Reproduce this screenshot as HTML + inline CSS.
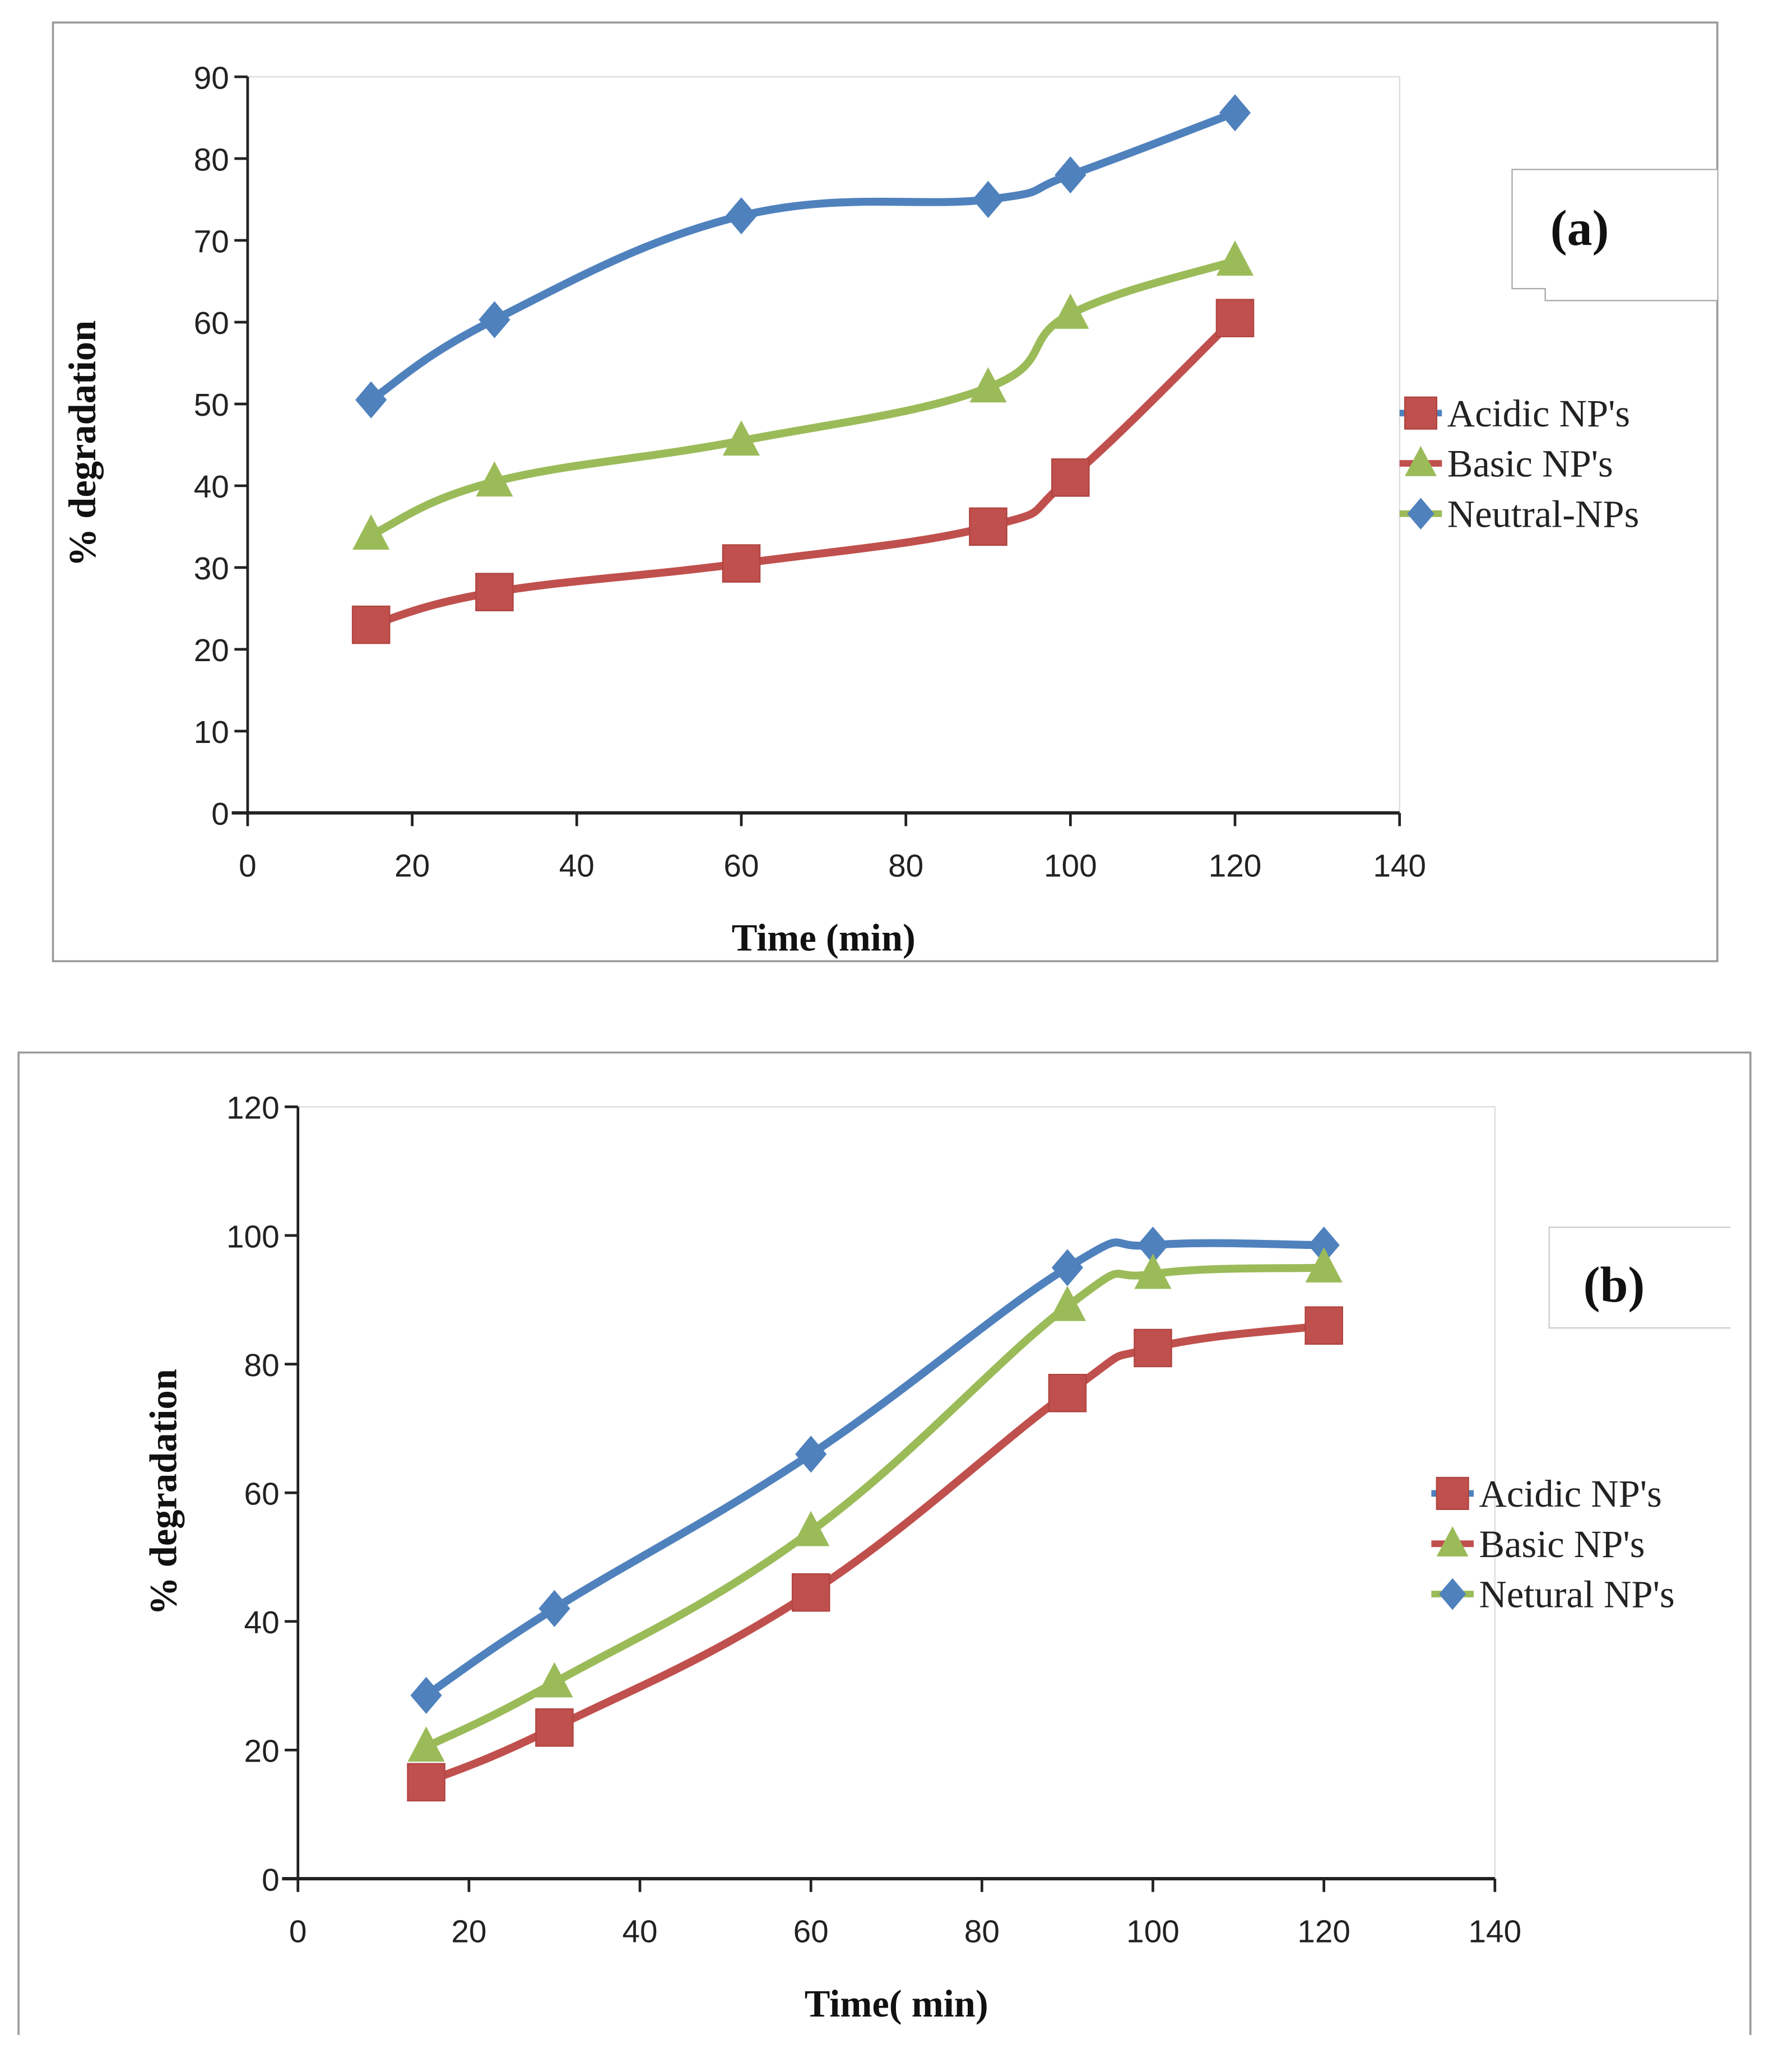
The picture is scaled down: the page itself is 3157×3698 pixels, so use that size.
<!DOCTYPE html>
<html><head><meta charset="utf-8"><style>
html,body{margin:0;padding:0;background:#fff}
svg{display:block}
.tk{font-family:"Liberation Sans",sans-serif;font-size:24px;fill:#222}
.ttl{font-family:"Liberation Serif",serif;font-size:29px;font-weight:bold;fill:#111}
.lg{font-family:"Liberation Serif",serif;font-size:29px;fill:#222}
</style></head><body>
<svg id="root" width="3157" height="3698" viewBox="0 0 1336 1565" xmlns="http://www.w3.org/2000/svg">
<rect x="40" y="17" width="1257" height="709" fill="none" stroke="#999" stroke-width="1.5"/>
<path d="M14,1537 V795 H1322 V1537" fill="none" stroke="#999" stroke-width="1.5"/>
<path d="M1297,128 H1142 V218 H1167 V227 H1297" fill="#fff" stroke="#aaa"/>
<text x="1193" y="185" class="ttl" text-anchor="middle" style="font-size:38px">(a)</text>
<path d="M1307,927 H1170 V1003 H1307" fill="#fff" stroke="#ccc"/>
<text x="1219" y="983" class="ttl" text-anchor="middle" style="font-size:38px">(b)</text>
<g id="ga"></g><g id="gb"></g>
</svg>
<script>
const xValues=[15,30,60,90,100,120];
const seriesNames=["Acidic NP's","Basic NP's","Neutral-NPs"];
const seriesNamesB=["Acidic  NP's","Basic NP's","Netural NP's"];
const aAcidic=[23,27,30.5,35,41,60.5];
const aBasic=[34,40.5,45.5,52,61,67.5];
const aNeutral=[50.5,60.3,73,75,78,85.6];
const bAcidic=[15,23.5,44.5,75.5,82.5,86];
const bBasic=[20.5,30.5,54,89,94,95];
const bNeutral=[28.5,42,66,95,98.5,98.5];
const xTicks=[0,20,40,60,80,100,120,140];
const aYTicks=[0,10,20,30,40,50,60,70,80,90];
const bYTicks=[0,20,40,60,80,100,120];
const NS="http://www.w3.org/2000/svg";
function mk(p,tag,at){const e=document.createElementNS(NS,tag);for(const k in at)e.setAttribute(k,at[k]);p.appendChild(e);return e;}
function smooth(pts){let d=`M${pts[0][0]},${pts[0][1]}`;for(let i=0;i<pts.length-1;i++){const p0=pts[i-1]||pts[i],p1=pts[i],p2=pts[i+1],p3=pts[i+2]||p2;const t=0.2;d+=` C${p1[0]+(p2[0]-p0[0])*t},${p1[1]+(p2[1]-p0[1])*t} ${p2[0]-(p3[0]-p1[0])*t},${p2[1]-(p3[1]-p1[1])*t} ${p2[0]},${p2[1]}`;}return d;}
function marker(g,kind,x,y,s){
 let e;
 if(kind==='sq'){e=mk(g,'rect',{x:x-s,y:y-s,width:2*s,height:2*s,fill:'#c0504d',stroke:'#b04440'});}
 else if(kind==='tri'){e=mk(g,'polygon',{points:`${x},${y-s*1.1} ${x-s},${y+s*0.8} ${x+s},${y+s*0.8}`,fill:'#9bbb59'});}
 else {e=mk(g,'polygon',{points:`${x},${y-s} ${x+s*0.85},${y} ${x},${y+s} ${x-s*0.85},${y}`,fill:'#4f81bd'});}
 return e;}
function chart(g,o){
 const X=v=>o.x0+(o.x1-o.x0)*v/140, Y=v=>o.y0-(o.y0-o.y1)*v/o.ymax;
 let e=mk(g,'rect',{x:X(0),y:Y(o.ymax),width:X(140)-X(0),height:Y(0)-Y(o.ymax),fill:'none',stroke:'#ddd'});
 
 e=mk(g,'line',{x1:X(0),y1:Y(0),x2:X(0),y2:Y(o.ymax),stroke:'#222','stroke-width':2});
 
 e=mk(g,'line',{x1:X(0)-12,y1:Y(0),x2:X(140),y2:Y(0),stroke:'#222','stroke-width':2.5});
 
 o.yt.forEach(v=>{mk(g,'line',{x1:X(0)-10,y1:Y(v),x2:X(0),y2:Y(v),stroke:'#222','stroke-width':2});
  e=mk(g,'text',{x:X(0)-14,y:Y(v)+9,'text-anchor':'end',class:'tk'});e.textContent=v;
  });
 xTicks.forEach(v=>{mk(g,'line',{x1:X(v),y1:Y(0),x2:X(v),y2:Y(0)+10,stroke:'#222','stroke-width':2});
  e=mk(g,'text',{x:X(v),y:Y(0)+48,'text-anchor':'middle',class:'tk'});e.textContent=v;
  });
 e=mk(g,'text',{x:(X(0)+X(140))/2+o.xtOff,y:o.xty,'text-anchor':'middle',class:'ttl'});e.textContent=o.xt;
 
 e=mk(g,'text',{x:0,y:0,'text-anchor':'middle',class:'ttl',transform:`translate(${o.ytx},${o.yty}) rotate(-90)`});e.textContent='% degradation';
 
 const ser=[[o.d[2],'#4f81bd','di','neutral'],[o.d[1],'#9bbb59','tri','basic'],[o.d[0],'#c0504d','sq','acidic']];
 ser.forEach(([vals,col,k,nm])=>{
  const pts=xValues.map((x,i)=>[X(x),Y(vals[i])]);
  e=mk(g,'path',{d:smooth(pts),fill:'none',stroke:col,'stroke-width':6});
  
  pts.forEach(p=>{e=marker(g,k,p[0],p[1],k==='sq'?14:14);
   });
 });
 const lc=[['sq','#4f81bd'],['tri','#c0504d'],['di','#9bbb59']];
 o.names.forEach((n,i)=>{const y=o.ly+i*o.lgap;
  e=mk(g,'line',{x1:o.lx-16,y1:y,x2:o.lx+16,y2:y,stroke:lc[i][1],'stroke-width':5});
  
  e=marker(g,lc[i][0],o.lx,y,12);
  
  e=mk(g,'text',{x:o.lx+20,y:y+10,class:'lg'});e.textContent=n;
  });
}
chart(document.getElementById('ga'),{x0:187,x1:1057,y0:614,y1:58,ymax:90,yt:aYTicks,d:[aAcidic,aBasic,aNeutral],names:seriesNames,xt:'Time (min)',xtOff:0,xty:718,ytx:72,yty:335,lx:1073,ly:312,lgap:38});
chart(document.getElementById('gb'),{x0:225,x1:1129,y0:1419,y1:836,ymax:120,yt:bYTicks,d:[bAcidic,bBasic,bNeutral],names:seriesNamesB,xt:'Time( min)',xtOff:0,xty:1523,ytx:133,yty:1127,lx:1097,ly:1128,lgap:38});
</script>
</body></html>
